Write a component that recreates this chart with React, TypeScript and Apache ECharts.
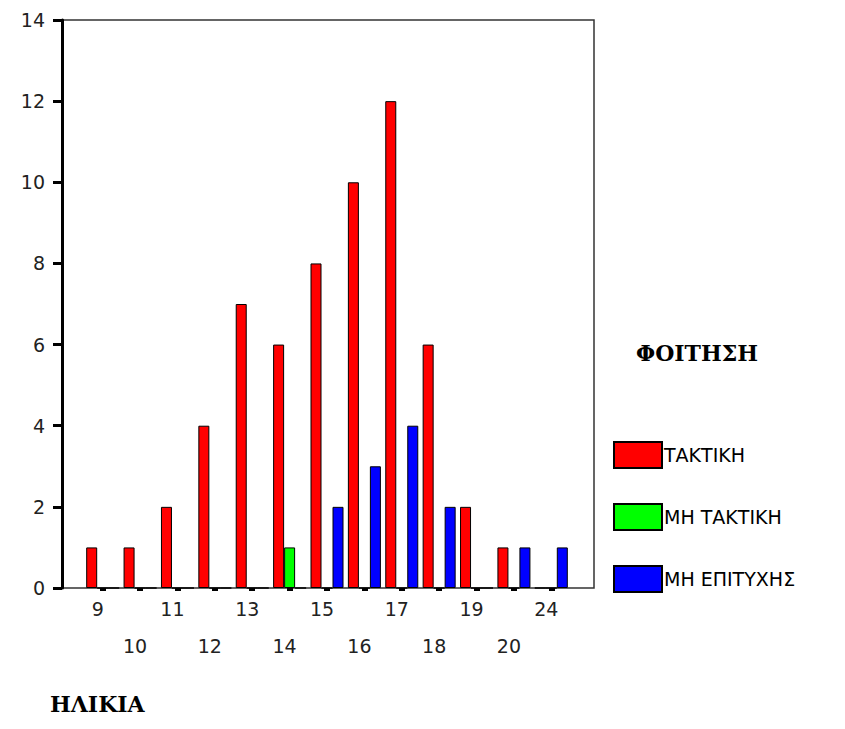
import React, { useEffect, useRef } from "react";
import * as echarts from "echarts";

const categories = ["9", "10", "11", "12", "13", "14", "15", "16", "17", "18", "19", "20", "24"];
const taktiki = [1, 1, 2, 4, 7, 6, 8, 10, 12, 6, 2, 1, 0];
const miTaktiki = [0, 0, 0, 0, 0, 1, 0, 0, 0, 0, 0, 0, 0];
const miEpitychis = [0, 0, 0, 0, 0, 0, 2, 3, 4, 2, 0, 1, 1];
const seriesNames = ["ΤΑΚΤΙΚΗ", "ΜΗ ΤΑΚΤΙΚΗ", "ΜΗ ΕΠΙΤΥΧΗΣ"];
const yTicks = { min: 0, max: 14, interval: 2 };

export default function App() {
  const ref = useRef<HTMLDivElement>(null);
  useEffect(() => {
    if (!ref.current) return;
    const chart = echarts.init(ref.current, null, { renderer: "svg" });
    const barStyle = (color: string) => ({
      color,
      borderColor: "#000",
      borderWidth: 1,
    });
    chart.setOption({
      animation: false,
      backgroundColor: "#fff",
      grid: { left: 84, width: 486, top: 20, height: 568, containLabel: false },
      xAxis: {
        type: "category",
        data: categories,
        boundaryGap: true,
        axisLine: { show: false },
        axisTick: {
          show: true,
          alignWithLabel: true,
          interval: 0,
          length: 3,
          lineStyle: { color: "#000", width: 6 },
        },
        axisLabel: {
          interval: 0,
          margin: 2,
          fontSize: 19,
          fontFamily: "DejaVu Sans",
          color: "#222",
          lineHeight: 37,
          padding: [0, 10, 0, 0],
          formatter: (v: string, i: number) => (i % 2 === 0 ? v : "\n" + v),
        },
        splitLine: { show: false },
      },
      yAxis: {
        type: "value",
        min: yTicks.min,
        max: yTicks.max,
        interval: yTicks.interval,
        offset: 22,
        axisLine: { show: true, lineStyle: { color: "#000", width: 3 } },
        axisTick: { show: true, length: 9, lineStyle: { color: "#000", width: 3 } },
        axisLabel: {
          margin: 17,
          fontSize: 19,
          fontFamily: "DejaVu Sans",
          color: "#222",
        },
        splitLine: { show: false },
      },
      legend: {
        orient: "vertical",
        left: 613,
        top: 441,
        padding: 0,
        itemWidth: 48,
        itemHeight: 26,
        itemGap: 34,
        icon: "rect",
        data: seriesNames,
        textStyle: { fontSize: 19, fontFamily: "DejaVu Sans", color: "#000", padding: [0, 0, 0, -3] },
      },
      graphic: [
        {
          type: "rect",
          z: -1,
          shape: { x: 62, y: 20, width: 532, height: 568 },
          style: { fill: "none", stroke: "#333", lineWidth: 1.5 },
          silent: true,
        },
        {
          type: "text",
          left: 636,
          top: 342,
          style: {
            text: "ΦΟΙΤΗΣΗ",
            fontSize: 22,
            fontWeight: "bold",
            fontFamily: "DejaVu Serif",
            fill: "#000",
          },
        },
        {
          type: "text",
          left: 50,
          top: 693,
          style: {
            text: "ΗΛΙΚΙΑ",
            fontSize: 22,
            fontWeight: "bold",
            fontFamily: "DejaVu Serif",
            fill: "#000",
          },
        },
      ],
      series: [
        { name: seriesNames[0], type: "bar", data: taktiki, barWidth: 11, barGap: "0%", itemStyle: barStyle("#ff0000") },
        { name: seriesNames[1], type: "bar", data: miTaktiki, barWidth: 11, barGap: "0%", itemStyle: barStyle("#00ff00") },
        { name: seriesNames[2], type: "bar", data: miEpitychis, barWidth: 11, barGap: "0%", itemStyle: barStyle("#0000ff") },
      ],
    });
    return () => chart.dispose();
  }, []);
  return (
    <div
      ref={ref}
      style={{ position: "absolute", left: 0, top: 0, width: 845, height: 729, background: "#fff" }}
    />
  );
}
